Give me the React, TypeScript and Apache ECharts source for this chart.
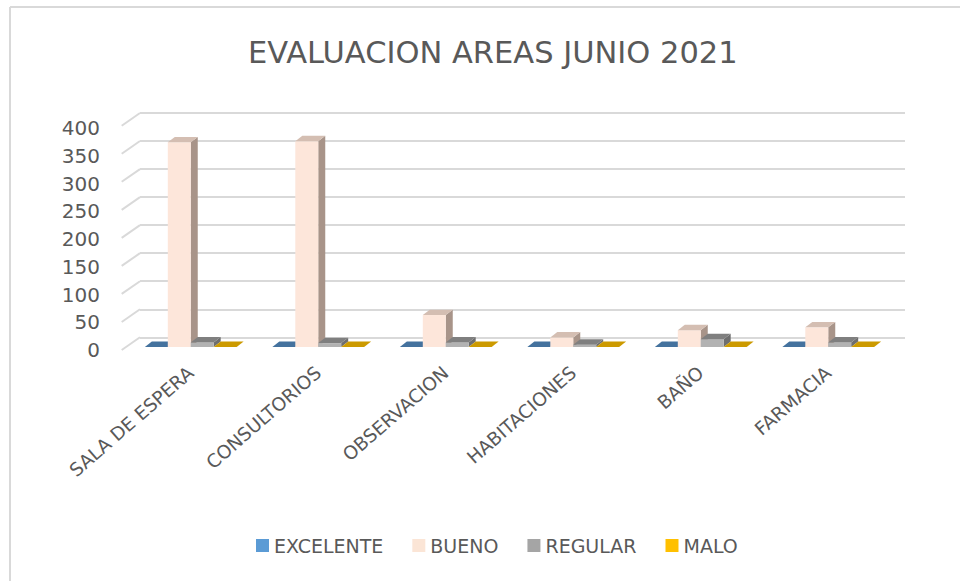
import React, { useEffect, useRef } from "react";
import * as echarts from "echarts";

const categories = ["SALA DE ESPERA", "CONSULTORIOS", "OBSERVACION", "HABITACIONES", "BAÑO", "FARMACIA"];
const seriesNames = ["EXCELENTE", "BUENO", "REGULAR", "MALO"];
const excelente = [0, 0, 0, 0, 0, 0];
const bueno = [365, 367, 57, 17, 30, 35];
const regular = [8, 7, 8, 4, 14, 8];
const malo = [0, 0, 0, 0, 0, 0];
const yTicks = [0, 50, 100, 150, 200, 250, 300, 350, 400];

const seriesValues = [excelente, bueno, regular, malo];
const legendColors = ["#5B9BD5", "#FBE5D6", "#A5A5A5", "#FFC000"];
const faceColors = [
  { front: "#5B9BD5", top: "#44729E", side: "#3F6B95" },
  { front: "#FDE6DA", top: "#D4BEB2", side: "#A89489" },
  { front: "#B2B2B2", top: "#7F7F7F", side: "#6E6E6E" },
  { front: "#FFC000", top: "#CC9A00", side: "#B58800" },
];

const FONT = "DejaVu Sans";
const TEXT = "#595959";
const GRIDC = "#D9D9D9";

// 3D projection offsets (pixels)
const WALL_DX = -18.3;
const WALL_DY = 12.7;
const FX = -13;
const FY = 9.7;
const DX = 7;
const DY = -5.4;

function barRenderer(idx: number) {
  return (params: any, api: any) => {
    const cat = api.value(0);
    const val = api.value(1);
    const b = api.coord([cat, 0]);
    const t = api.coord([cat, val]);
    const bw = api.size([1, 0])[0];
    const w = bw * 0.18;
    const xl = b[0] + FX + (idx - 2) * w;
    const xr = xl + w;
    const yb = b[1] + FY;
    const yt = t[1] + FY;
    const c = faceColors[idx];
    const children: any[] = [];
    if (yb - yt > 0.3) {
      children.push({
        type: "polygon",
        shape: { points: [[xr, yt], [xr + DX, yt + DY], [xr + DX, yb + DY], [xr, yb]] },
        style: { fill: c.side },
      });
      children.push({
        type: "rect",
        shape: { x: xl, y: yt, width: w, height: yb - yt },
        style: { fill: c.front },
      });
    }
    children.push({
      type: "polygon",
      shape: { points: [[xl, yt], [xr, yt], [xr + DX, yt + DY], [xl + DX, yt + DY]] },
      style: { fill: c.top },
    });
    return { type: "group", children };
  };
}

export default function App() {
  const ref = useRef<HTMLDivElement>(null);
  useEffect(() => {
    if (!ref.current) return;
    const chart = echarts.init(ref.current, null, { renderer: "svg" });
    const barSeries = seriesNames.map((name, i) => ({
      name,
      type: "custom",
      xAxisIndex: 0,
      yAxisIndex: 0,
      itemStyle: { color: legendColors[i] },
      encode: { x: 0, y: 1 },
      data: seriesValues[i].map((v, k) => [k, v]),
      renderItem: barRenderer(i),
      z: 5 + i,
    }));
    const option: any = {
      animation: false,
      backgroundColor: "#FFFFFF",
      title: {
        text: "EVALUACION AREAS JUNIO 2021",
        left: 243,
        top: 32,
        textStyle: { fontFamily: FONT, fontSize: 30.5, fontWeight: "normal", color: TEXT },
      },
      legend: {
        data: seriesNames,
        left: 251,
        top: 531,
        icon: "rect",
        itemWidth: 13,
        itemHeight: 13,
        itemGap: 29,
        textStyle: { fontFamily: FONT, fontSize: 19, color: TEXT },
      },
      graphic: [
        { type: "line", shape: { x1: 10, y1: 7, x2: 960, y2: 7 }, style: { stroke: GRIDC, lineWidth: 2 } },
        { type: "line", shape: { x1: 10, y1: 7, x2: 10, y2: 581 }, style: { stroke: GRIDC, lineWidth: 2 } },
      ],
      grid: [
        { left: 140, right: 55, top: 113, bottom: 243.7 },
        { left: 127, right: 68, top: 128, bottom: 231 },
      ],
      xAxis: [
        { type: "category", gridIndex: 0, data: categories, show: false },
        {
          type: "category",
          gridIndex: 1,
          data: categories,
          axisLine: { show: false },
          axisTick: { show: false },
          axisLabel: {
            rotate: 41,
            margin: 20,
            interval: 0,
            fontFamily: FONT,
            fontSize: 18.5,
            color: TEXT,
          },
        },
      ],
      yAxis: [
        {
          type: "value",
          gridIndex: 0,
          min: 0,
          max: 400,
          interval: 50,
          axisLabel: { show: false },
          axisLine: { show: false },
          axisTick: { show: false },
          splitLine: { show: true, lineStyle: { color: GRIDC, width: 2 } },
        },
        {
          type: "value",
          gridIndex: 1,
          min: 0,
          max: 400,
          interval: 50,
          axisLine: { show: false },
          axisTick: { show: false },
          splitLine: { show: false },
          axisLabel: { margin: 27, fontFamily: FONT, fontSize: 20, color: TEXT },
        },
      ],
      series: [
        {
          type: "custom",
          xAxisIndex: 0,
          yAxisIndex: 0,
          silent: true,
          data: yTicks.map((v) => [0, v]),
          encode: { x: 0, y: 1 },
          renderItem: (params: any, api: any) => {
            const p = api.coord([0, api.value(1)]);
            const x0 = params.coordSys.x;
            return {
              type: "line",
              shape: { x1: x0, y1: p[1], x2: x0 + WALL_DX, y2: p[1] + WALL_DY },
              style: { stroke: GRIDC, lineWidth: 2 },
            };
          },
          z: 1,
        },
        ...barSeries,
      ],
    };
    chart.setOption(option);
    return () => chart.dispose();
  }, []);
  return (
    <div
      ref={ref}
      style={{ position: "fixed", left: 0, top: 0, width: 960, height: 581, background: "#fff" }}
    />
  );
}
